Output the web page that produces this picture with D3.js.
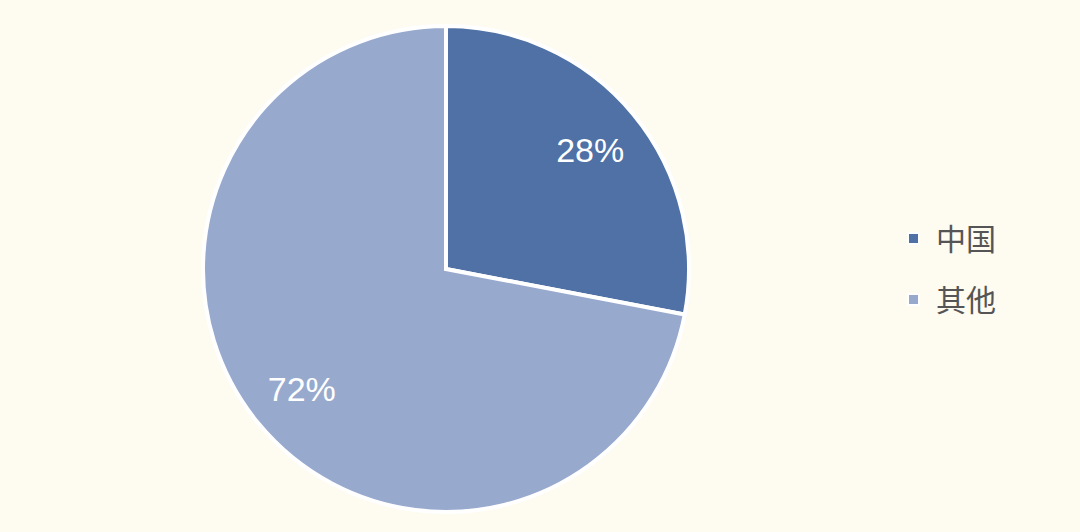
<!DOCTYPE html>
<html><head><meta charset="utf-8">
<script src="https://cdn.jsdelivr.net/npm/d3@7"></script>
<style>html,body{margin:0;padding:0;background:#FEFBF1;}svg{display:block;}</style>
</head><body>
<svg id="c" width="1080" height="532"></svg>
<script>
const categories = ["中国", "其他"];
const values = [28, 72];
const labels = ["28%", "72%"];
const colors = ["#4F71A5", "#98A9CE"];

const svg = d3.select("#c");
const cx = 446, cy = 269, R = 243;
const g = svg.append("g").attr("transform", `translate(${cx},${cy})`);
const pie = d3.pie().sort(null).value(d => d)(values);
const arc = d3.arc().innerRadius(0).outerRadius(R);
g.selectAll("path").data(pie).join("path")
  .attr("d", arc).attr("fill", (d,i) => colors[i])
  .attr("stroke", "#fff").attr("stroke-width", 4).attr("stroke-linejoin", "miter");

const labelArc = d3.arc().innerRadius(R*0.77).outerRadius(R*0.77);
g.selectAll("text").data(pie).join("text")
  .attr("transform", d => { const c = labelArc.centroid(d); return `translate(${c[0]},${c[1]})`; })
  .attr("text-anchor", "middle").attr("dy", "0.36em")
  .attr("font-family", "Liberation Sans, Arial, sans-serif").attr("font-size", 34)
  .attr("fill", "#fff").text((d,i) => labels[i]);

const lg = svg.append("g").attr("transform", "translate(908,0)");
const ys = d3.scalePoint().domain(categories).range([239, 300]);
categories.forEach((c, i) => {
  lg.append("rect").attr("x", 0).attr("y", ys(c) - 6).attr("width", 11).attr("height", 11)
    .attr("fill", colors[i]).attr("stroke", "#fff").attr("stroke-width", 2);
  lg.append("text").attr("x", 28).attr("y", ys(c)).attr("dy", "0.36em")
    .attr("font-family", "Noto Sans CJK SC, sans-serif").attr("font-size", 30)
    .attr("fill", "#555").text(c);
});
</script>
</body></html>
